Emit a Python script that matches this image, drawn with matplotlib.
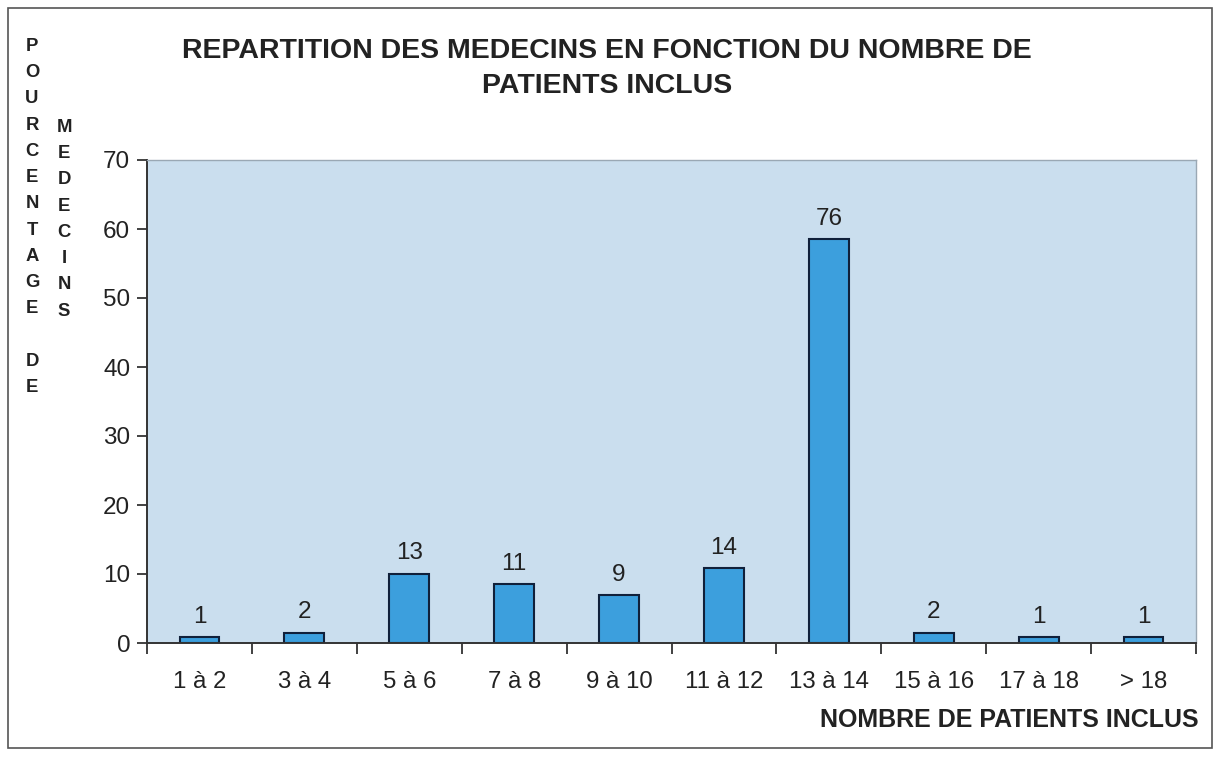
import numpy as np
import matplotlib
matplotlib.use("Agg")
import matplotlib.pyplot as plt
from matplotlib.patches import Rectangle

plt.rcParams['font.family'] = ['Liberation Sans', 'DejaVu Sans']

classes = ["1 à 2", "3 à 4", "5 à 6", "7 à 8", "9 à 10", "11 à 12",
           "13 à 14", "15 à 16", "17 à 18", "> 18"]
pct = [0.8, 1.5, 10.0, 8.5, 6.9, 10.8, 58.5, 1.5, 0.8, 0.8]
counts = [1, 2, 13, 11, 9, 14, 76, 2, 1, 1]

fig = plt.figure(figsize=(12.16, 7.59), dpi=100)
fig.patch.set_facecolor("white")
ax = fig.add_axes([147/1216, 1-643/759, (1196-147)/1216, (643-160)/759])
ax.set_facecolor("#CADEEE")

x = np.arange(len(classes))
ax.bar(x, pct, width=0.38, color="#3C9FDD", edgecolor="#10203A", linewidth=1.5)
for xi, p, c in zip(x, pct, counts):
    ax.annotate(str(c), (xi, p), xytext=(0, 7), textcoords="offset points",
                ha="center", va="bottom", fontsize=17.5, color="#222222")

ax.set_xlim(-0.5, len(classes)-0.5)
ax.set_ylim(0, 70)
ax.set_yticks(range(0, 71, 10))
ax.set_yticklabels([str(v) for v in range(0, 71, 10)], fontsize=17.5, color="#222222")
ax.set_xticks(np.arange(-0.5, len(classes)), minor=False)
ax.set_xticklabels([])
ax.set_xticks(x, minor=True)
ax.set_xticklabels(classes, minor=True, fontsize=17.3, color="#222222")
ax.tick_params(axis="x", which="major", direction="out", length=8, width=1.3, color="#333333")
ax.tick_params(axis="x", which="minor", length=0, pad=20)
ax.tick_params(axis="y", direction="out", length=7, width=1.3, color="#333333", pad=5)
for s in ("top", "right"):
    ax.spines[s].set_color("#9AA8B4")
    ax.spines[s].set_linewidth(1)
for s in ("left", "bottom"):
    ax.spines[s].set_color("#333333")
    ax.spines[s].set_linewidth(1.4)

fig.text(607/1216, 1-68.5/759, "REPARTITION DES MEDECINS EN FONCTION DU NOMBRE DE\nPATIENTS INCLUS",
         ha="center", va="center", fontsize=20.5, fontweight="bold", color="#222222",
         linespacing=1.48)
fig.text(1199/1216, 1-720/759, "NOMBRE DE PATIENTS INCLUS", ha="right", va="center",
         fontsize=18, fontweight="bold", color="#222222")

col1 = "POURCENTAGE DE"
col2 = "MEDECINS"
fig.text(32/1216, 1-38/759, "\n".join(col1), ha="center", va="top", fontsize=13.3,
         fontweight="bold", color="#222222", linespacing=1.71)
fig.text(64/1216, 1-119/759, "\n".join(col2), ha="center", va="top", fontsize=13.3,
         fontweight="bold", color="#222222", linespacing=1.71)

fig.add_artist(Rectangle((8/1216, 1-748/759), 1204/1216, 740/759, transform=fig.transFigure,
                         fill=False, edgecolor="#555555", linewidth=1.2))

fig.savefig("out.png", dpi=100)
